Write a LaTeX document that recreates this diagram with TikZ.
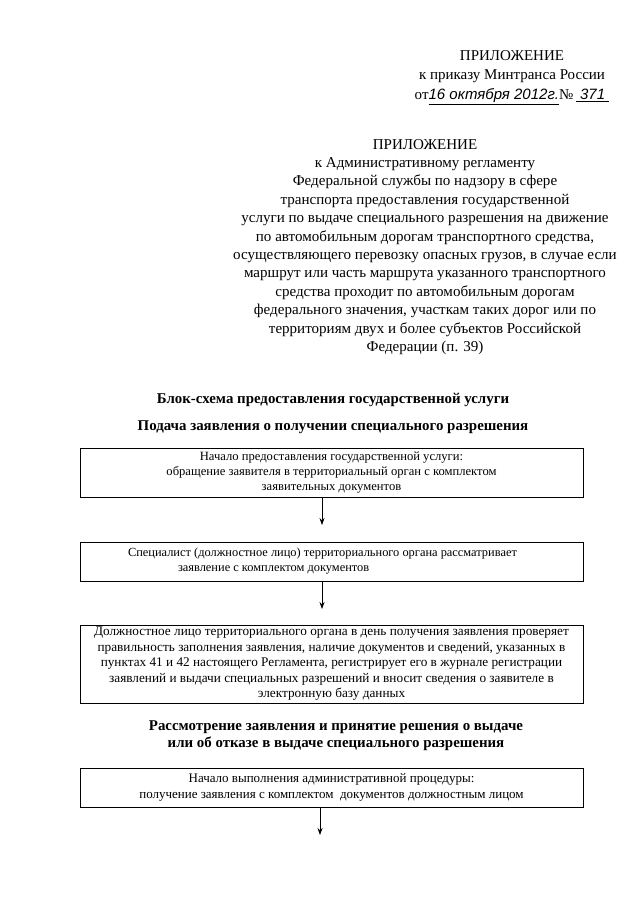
\documentclass[tikz,border=0pt]{standalone}
\usepackage{fontspec}
\setmainfont{Liberation Serif}
\newfontfamily\handfont{Liberation Sans}
\usetikzlibrary{positioning,arrows.meta}
\tikzset{
  hdr/.style={align=flush center, inner sep=0pt, font=\fontsize{15.05}{18.4}\selectfont},
  ttl/.style={align=flush center, inner sep=0pt, font=\fontsize{14.9}{17}\selectfont\bfseries},
  stepbox/.style={draw, line width=0.9pt, minimum width=503pt, align=flush center,
                  inner sep=0pt, font=\fontsize{13}{15.2}\selectfont},
  flow/.style={-{Stealth[length=7pt,width=5pt]}, line width=0.7pt},
}
\newcommand{\hw}[1]{\underline{\handfont\itshape #1}}

\begin{document}
\begin{tikzpicture}[x=1pt,y=-1pt]
  \useasboundingbox (0,0) rectangle (640,905);
  % --- headers ---
  \node[hdr, font=\fontsize{15}{19.5}\selectfont] (order) at (512,77.5)
    {ПРИЛОЖЕНИЕ\\к приказу Минтранса России\\от\hw{16 октября 2012г.}№\,\hw{\ 371\ }};
  \node[hdr] (appx) at (425,247)
    {ПРИЛОЖЕНИЕ\\к Административному регламенту\\Федеральной службы по надзору в сфере\\
     транспорта предоставления государственной\\услуги по выдаче специального разрешения на движение\\
     по автомобильным дорогам транспортного средства,\\осуществляющего перевозку опасных грузов, в случае если\\
     маршрут или часть маршрута указанного транспортного\\средства проходит по автомобильным дорогам\\
     федерального значения, участкам таких дорог или по\\территориям двух и более субъектов Российской\\
     Федерации (п. 39)};
  \node[ttl] (scheme) at (333,400) {Блок-схема предоставления государственной услуги};
  \node[ttl] (filing) at (333,427) {Подача заявления о получении специального разрешения};

  % --- first stage ---
  \node[stepbox, minimum height=49pt, font=\fontsize{12.6}{14.8}\selectfont] (start) at (331.5,472.5)
    {Начало предоставления государственной услуги:\\обращение заявителя в территориальный орган с комплектом\\заявительных документов};
  \node[stepbox, minimum height=39pt, align=flush left, text width=503pt,
        font=\fontsize{12.4}{15}\selectfont] (review) at (331.5,561.5)
    {\hspace*{48pt}Специалист (должностное лицо) территориального органа рассматривает\\
     \hspace*{98pt}заявление с комплектом документов};
  \node[stepbox, minimum height=78pt, font=\fontsize{13.25}{15.5}\selectfont] (check) at (331.5,664)
    {Должностное лицо территориального органа в день получения заявления проверяет\\
     правильность заполнения заявления, наличие документов и сведений, указанных в\\
     пунктах 41 и 42 настоящего Регламента, регистрирует его в журнале регистрации\\
     заявлений и выдачи специальных разрешений и вносит сведения о заявителе в\\
     электронную базу данных};
  \coordinate (a1) at (322,525);
  \coordinate (a2) at (322,609);
  \draw[flow] (start.south -| a1) -- (a1);
  \draw[flow] (review.south -| a2) -- (a2);

  % --- second stage ---
  \node[ttl] (decide) at (336,736)
    {Рассмотрение заявления и принятие решения о выдаче\\или об отказе в выдаче специального разрешения};
  \node[stepbox, minimum height=39pt] (proc) at (331.5,787.5)
    {Начало выполнения административной процедуры:\\получение заявления с комплектом\ \ документов должностным лицом};
  \coordinate (a3) at (320,835);
  \draw[flow] (proc.south -| a3) -- (a3);
\end{tikzpicture}
\end{document}
